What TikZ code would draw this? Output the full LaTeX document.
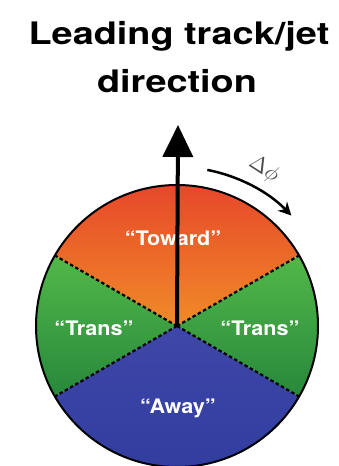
\documentclass[tikz,border=0pt]{standalone}
\usepackage{fontspec}
\setmainfont{TeX Gyre Heros}
\usepackage{xcolor}
\usetikzlibrary{arrows.meta, calc}

\definecolor{towardtop}{HTML}{E53E2A}
\definecolor{towardbot}{HTML}{F18B28}
\definecolor{transtop}{HTML}{52B848}
\definecolor{transbot}{HTML}{27883C}
\definecolor{awaytop}{HTML}{3F47A8}
\definecolor{awaybot}{HTML}{2F3C9E}

\begin{document}
\begin{tikzpicture}[
    x=1pt, y=1pt,
    title/.style={anchor=base, font=\fontsize{31}{31}\selectfont\bfseries, xscale=1.22, inner sep=0pt},
    region/.style={text=white, font=\fontsize{20}{20}\selectfont\bfseries, xscale=1.08, inner sep=0pt},
    divider/.style={line width=2.2pt, dash pattern=on 3.5pt off 2.5pt},
    rim/.style={line width=2pt}
]
    \useasboundingbox (-177,-140) rectangle (161,326);

    % Title
    \node[title] (head1) at (2,281) {Leading track/jet};
    \node[title] (head2) at (0,233) {direction};

    % Centre and rim points
    \coordinate (c) at (0,0);
    \coordinate (ur) at (30:141);
    \coordinate (ul) at (150:141);
    \coordinate (ll) at (210:141);
    \coordinate (lr) at (330:141);

    % Sectors
    \shade[top color=towardtop, bottom color=towardbot]
        (c) -- (ur) arc[start angle=30, end angle=150, radius=141] -- cycle;
    \shade[top color=transtop, bottom color=transbot]
        (c) -- (ul) arc[start angle=150, end angle=210, radius=141] -- cycle;
    \shade[top color=transtop, bottom color=transbot]
        (c) -- (lr) arc[start angle=-30, end angle=30, radius=141] -- cycle;
    \shade[top color=awaytop, bottom color=awaybot]
        (c) -- (ll) arc[start angle=210, end angle=330, radius=141] -- cycle;

    % Dashed borders
    \draw[divider] (c) -- (ur);
    \draw[divider] (c) -- (ul);
    \draw[divider] (c) -- (ll);
    \draw[divider] (c) -- (lr);
    \draw[rim] (c) circle[radius=141];

    % Labels
    \node[region] (toward) at (-4,88) {“Toward”};
    \node[region] (transl) at (-83,-2) {“Trans”};
    \node[region] (transr) at (83,-2) {“Trans”};
    \node[region] (away) at (1,-82) {“Away”};

    % Jet axis
    \coordinate (tip) at (1,201);
    \draw[line width=4pt, -{Triangle[width=30pt, length=32pt]}] (c) -- (tip);

    % Delta phi
    \coordinate (dstart) at (79:159);
    \draw[line width=2.5pt, -{Stealth[width=13pt, length=13pt]}]
        (dstart) arc[start angle=79, end angle=44, radius=159];
    \node[text=black!70, rotate=-33, scale=2.2, inner sep=0pt] (dphi) at (87,157)
        {$\Delta\phi$};
\end{tikzpicture}
\end{document}
